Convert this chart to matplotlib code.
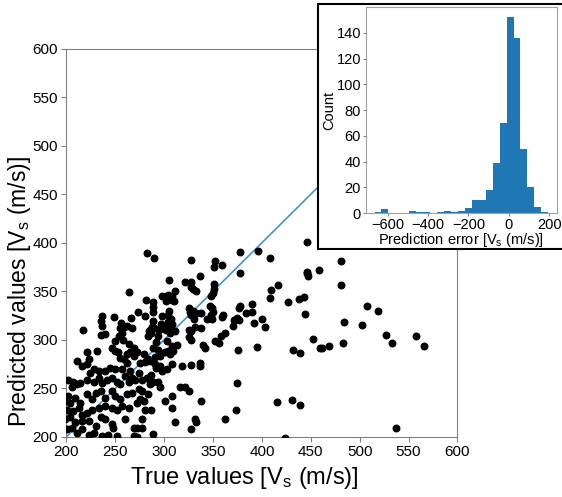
import matplotlib
matplotlib.use("Agg")
import matplotlib.pyplot as plt
from matplotlib.patches import Rectangle
import numpy as np

plt.rcParams['font.family'] = ['Liberation Sans', 'DejaVu Sans']
plt.rcParams['mathtext.default'] = 'regular'

# ---- scatter data (true vs predicted Vs, m/s) ----
true_vs = [
    396, 408, 446, 481, 458, 446, 446, 447, 481, 416, 409, 408, 427, 438, 443, 390, 390, 400, 392, 403, 444,
    507, 519, 484, 502, 527, 533, 558, 566, 452, 459, 461, 469, 483, 395, 432, 439, 415, 431, 439, 537, 424,
    378, 352, 351, 359, 378, 351, 351, 350, 348, 347, 349, 350, 348, 349, 360, 359, 378, 377, 384, 371, 375,
    377, 370, 362, 358,
    352, 356, 376, 375, 374, 362,
    283, 290, 328, 337, 305, 321, 328, 328, 330, 333, 311, 298, 304, 308, 302, 308, 310, 281, 289, 289, 289,
    273, 280, 298, 305, 304, 307, 308, 325, 326, 330, 333, 328, 331, 338, 344,
    289, 288, 286, 285, 287, 290, 295, 297, 300, 302, 304, 305, 308, 306, 311, 325, 328, 332, 338, 284, 294, 325,
    264, 237, 249, 217, 235, 236, 256, 259, 255, 262, 266, 267, 235, 240, 254, 257,
    250, 258, 264, 269, 247, 250, 253, 255, 259, 262, 265, 269, 221, 231, 223, 211, 216, 221, 228, 224, 233,
    240, 245, 250, 257, 262, 265, 202, 207, 211, 206, 214, 221, 228, 233, 236, 242, 247, 252, 255, 260, 264,
    267, 202, 199, 204, 209, 214, 221, 226, 230, 235, 240, 247, 250, 255, 262, 267, 201, 207, 213, 216, 221,
    226, 233, 240, 247, 252, 257, 264, 199, 204, 209, 216, 223, 230, 235, 240, 247, 248, 260, 269, 201, 206,
    211, 216, 223, 228, 236, 243, 252, 269,
    292, 303, 289, 294, 308, 313, 327, 340, 342, 272, 279, 284, 291, 296, 301, 304, 306, 309, 275, 280, 286,
    291, 292, 296, 298, 303, 308, 318, 327, 337, 337, 274, 277, 282, 287, 289, 286, 294, 296, 270, 274, 277,
    284, 275, 279, 272, 308, 301, 316, 321, 325, 338, 280, 287, 308, 277, 311, 332, 333, 328, 272, 277, 289, 272,
]
pred_vs = [
    392, 384, 401, 381, 372, 370, 369, 366, 357, 356, 351, 343, 339, 342, 344, 337, 329, 321, 317, 313, 327,
    335, 330, 318, 315, 305, 297, 304, 294, 301, 292, 292, 294, 297, 293, 289, 286, 236, 238, 233, 209, 199,
    391, 381, 375, 377, 369, 358, 352, 348, 345, 335, 333, 329, 326, 321, 326, 324, 335, 333, 328, 320, 323,
    320, 314, 307, 304,
    299, 297, 289, 256, 228, 218,
    389, 384, 382, 366, 362, 360, 360, 354, 352, 350, 350, 345, 346, 345, 340, 341, 340, 341, 339, 334, 329,
    329, 325, 325, 330, 326, 321, 316, 333, 329, 330, 328, 326, 321, 328, 321,
    319, 313, 310, 309, 307, 312, 310, 316, 314, 310, 318, 313, 310, 307, 309, 310, 309, 313, 312, 304, 304, 303,
    349, 325, 324, 310, 319, 314, 317, 313, 312, 314, 322, 312, 305, 306, 304, 307,
    299, 300, 296, 292, 292, 288, 287, 281, 280, 285, 287, 283, 287, 288, 280, 278, 273, 275, 270, 266, 268,
    268, 271, 270, 270, 276, 268, 259, 257, 254, 251, 256, 259, 257, 261, 256, 259, 261, 257, 254, 263, 257,
    261, 242, 237, 235, 240, 235, 244, 239, 245, 247, 240, 247, 242, 239, 244, 245, 228, 227, 230, 223, 225,
    228, 230, 232, 230, 228, 232, 230, 218, 220, 215, 216, 216, 211, 220, 218, 213, 209, 218, 209, 208, 209,
    204, 208, 202, 204, 201, 202, 201, 201,
    298, 299, 292, 290, 294, 295, 300, 295, 292, 287, 285, 280, 282, 283, 287, 288, 285, 288, 276, 277, 278,
    275, 271, 273, 268, 270, 275, 273, 274, 276, 273, 266, 259, 261, 264, 257, 254, 257, 251, 259, 249, 247,
    244, 239, 237, 235, 242, 237, 251, 251, 247, 237, 228, 228, 230, 218, 215, 218, 215, 208, 209, 209, 203, 200,
]

# ---- histogram of prediction error ----
err_min, err_max, n_bins = -665, 195, 25
err_counts = [1, 3, 0, 0, 0, 2, 1, 1, 0, 1, 2, 1, 2, 4, 10, 10, 18, 39, 70, 152, 136, 50, 20, 5, 1]

main_ticks = [200, 250, 300, 350, 400, 450, 500, 550, 600]
inset_xticks = [-600, -400, -200, 0, 200]
inset_yticks = [0, 20, 40, 60, 80, 100, 120, 140]

fig = plt.figure(figsize=(5.62, 4.97), dpi=100)
ax = fig.add_axes([0.118, 0.121, 0.696, 0.781])
ax.scatter(true_vs, pred_vs, s=22, color='black', zorder=3)
ax.plot([200, 600], [200, 600], color='#4492d2', lw=1.2, zorder=2)
ax.set_xlim(200, 600)
ax.set_ylim(200, 600)
ax.set_xticks(main_ticks)
ax.set_yticks(main_ticks)
ax.tick_params(labelsize=11, color='#808080', length=3.5, pad=2.5)
for sp in ax.spines.values():
    sp.set_color('#808080')
ax.set_xlabel('True values [V$_{s}$ (m/s)]', fontsize=17)
ax.set_ylabel('Predicted values [V$_{s}$ (m/s)]', fontsize=16.5)
ax.xaxis.set_label_coords(0.455, -0.072)
ax.yaxis.set_label_coords(-0.085, 0.375)

# inset frame
box = Rectangle((0.566, 0.499), 0.44, 0.493, transform=fig.transFigure,
                facecolor='white', edgecolor='black', lw=1.5, zorder=5)
fig.patches.append(box)

ax2 = fig.add_axes([0.651, 0.571, 0.340, 0.415], zorder=10)
edges = np.linspace(err_min, err_max, n_bins + 1)
ax2.bar(edges[:-1], err_counts, width=np.diff(edges), align='edge', color='#1f77b4')
ax2.set_xticks(inset_xticks)
ax2.set_yticks(inset_yticks)
ax2.set_xlim(err_min - 0.05 * (err_max - err_min), err_max + 0.05 * (err_max - err_min))
ax2.set_ylim(0, 160)
ax2.tick_params(labelsize=10.5, color='#808080', length=2.5, pad=1)
for sp in ax2.spines.values():
    sp.set_color('#a0a0a0')
ax2.set_xlabel('Prediction error [V$_{s}$ (m/s)]', fontsize=10.5)
ax2.set_ylabel('Count', fontsize=10.5)
ax2.xaxis.set_label_coords(0.5, -0.088)
ax2.yaxis.set_label_coords(-0.155, 0.5)

fig.savefig('out.png', dpi=100)
